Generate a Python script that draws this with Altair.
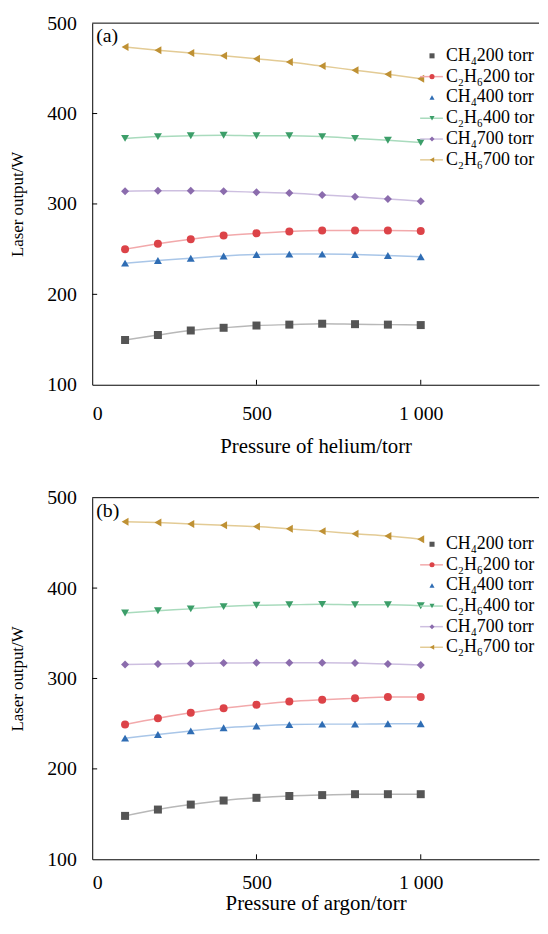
import altair as alt
import pandas as pd

pressure = [100, 200, 300, 400, 500, 600, 700, 800, 900, 1000]
series = ["CH₄200 torr", "C₂H₆200 torr", "CH₄400 torr",
          "C₂H₆400 torr", "CH₄700 torr", "C₂H₆700 torr"]
legend_line_series = ["C₂H₆200 torr", "C₂H₆400 torr", "CH₄700 torr", "C₂H₆700 torr"]

# (a) helium
he_ch4_200 = [149.5, 155, 160, 163, 165.5, 166.5, 167.5, 167, 166.5, 166]
he_c2h6_200 = [250, 256, 261, 265, 267.5, 269.5, 270.5, 270.5, 270.5, 270]
he_ch4_400 = [234.5, 237.5, 240, 242.5, 244, 244.5, 244.5, 244, 243, 241.5]
he_c2h6_400 = [372.5, 374.5, 375.5, 376, 375.5, 375.5, 374.5, 372.5, 370.5, 368]
he_ch4_700 = [314, 314.5, 314.5, 314, 313, 312, 310, 308, 305.5, 303]
he_c2h6_700 = [473.5, 470, 467, 464, 460.5, 457, 452.5, 448, 443.5, 438.5]

# (b) argon
ar_ch4_200 = [148, 155, 160.5, 165, 168, 170, 171, 172, 172, 172]
ar_c2h6_200 = [249, 256, 262, 267, 271, 274.5, 276.5, 278, 279.5, 279.5]
ar_ch4_400 = [234, 238, 242, 245.5, 247.5, 249, 249.5, 249.5, 250, 250]
ar_c2h6_400 = [372.5, 375, 377, 379.5, 381, 381.5, 382, 381.5, 381.5, 380.5]
ar_ch4_700 = [315.5, 316, 316.5, 317, 317.5, 317.5, 317.5, 317, 316, 315]
ar_c2h6_700 = [473.5, 472.5, 471, 469.5, 468, 465.5, 463, 460, 457.5, 454]

marker_colors = ["#555555", "#dc4348", "#2f6db4", "#3c9e69", "#8b6cad", "#bf9134"]
line_colors = ["#b8b8b8", "#f2a9ab", "#a9c6e8", "#a9dbbd", "#cdbfe0", "#e3cb95"]
shapes = ["square", "circle", "triangle-up", "triangle-down", "diamond", "triangle-left"]

x_ticks = [0, 500, 1000]
y_ticks = [100, 200, 300, 400, 500]

FONT = "Liberation Serif"
W, H = 451, 365
LEG_X = 357


def panel(values, xtitle, tag, legend_range, x_label_pad, x_title_pad):
    rows = []
    for name, vals in zip(series, values):
        for p, v in zip(pressure, vals):
            rows.append({"pressure": p, "output": v, "series": name})
    df = pd.DataFrame(rows)
    xscale = alt.Scale(domain=[0, 1360], nice=False, zero=False)
    yscale = alt.Scale(domain=[100, 500], nice=False, zero=False)
    xaxis = alt.Axis(values=x_ticks, title=xtitle, labelPadding=x_label_pad,
                     titlePadding=x_title_pad,
                     labelExpr="replace(datum.label, ',', ' ')")
    yaxis = alt.Axis(values=y_ticks, title="Laser output/W")
    x = alt.X("pressure:Q", scale=xscale, axis=xaxis)
    y = alt.Y("output:Q", scale=yscale, axis=yaxis)
    cscale = alt.Scale(domain=series, range=marker_colors)
    sscale = alt.Scale(domain=series, range=shapes)
    lscale = alt.Scale(domain=series, range=line_colors)

    lines = alt.Chart(df).mark_line(interpolate="monotone", strokeWidth=1.5).encode(
        x=x, y=y,
        stroke=alt.Stroke("series:N", scale=lscale, legend=None),
        detail="series:N",
    )
    points = alt.Chart(df).mark_point(filled=True, size=65, opacity=1).encode(
        x=x, y=y,
        color=alt.Color("series:N", scale=cscale, legend=None),
        shape=alt.Shape("series:N", scale=sscale, legend=None),
    )
    ytk = alt.Chart(pd.DataFrame({"output": [200, 300, 400]})).mark_rule(
        color="black", strokeWidth=1).encode(
        y=alt.Y("output:Q", scale=yscale, axis=yaxis), x=alt.value(0), x2=alt.value(5))
    xtk = alt.Chart(pd.DataFrame({"pressure": [500, 1000]})).mark_rule(
        color="black", strokeWidth=1).encode(
        x=alt.X("pressure:Q", scale=xscale, axis=xaxis), y=alt.value(H - 5), y2=alt.value(H))
    frame_top = alt.Chart(pd.DataFrame({"t": [0]})).mark_rule(
        color="black", strokeWidth=1).encode(
        x=alt.value(0), x2=alt.value(W), y=alt.value(0))
    label = alt.Chart(pd.DataFrame({"t": [tag]})).mark_text(
        font=FONT, fontSize=20, align="left", baseline="middle", color="black").encode(
        text="t:N", x=alt.value(4), y=alt.value(13))
    inner = alt.layer(lines, points, ytk, xtk, frame_top, label)

    # hand-made legend (symbols, short lines, labels cut at the plot edge)
    ly = alt.Y("series:N", scale=alt.Scale(domain=series, type="point", range=legend_range, padding=0),
               axis=None)
    leg_df = pd.DataFrame({"series": series})
    leg_lines = alt.Chart(pd.DataFrame({"series": legend_line_series})).mark_rule(
        strokeWidth=1.5).encode(
        y=ly, x=alt.value(331), x2=alt.value(354),
        stroke=alt.Stroke("series:N", scale=lscale, legend=None))
    leg_pts = alt.Chart(leg_df).mark_point(filled=True, size=26, opacity=1).encode(
        y=ly, x=alt.value(343),
        color=alt.Color("series:N", scale=cscale, legend=None),
        shape=alt.Shape("series:N", scale=sscale, legend=None))
    leg_txt = alt.Chart(leg_df).mark_text(
        font=FONT, fontSize=18, align="left", baseline="middle", color="black",
        clip=True, limit=W - LEG_X, ellipsis=" ").encode(
        y=ly, x=alt.value(LEG_X), text="series:N")
    legend = alt.layer(leg_lines, leg_pts, leg_txt)

    return alt.layer(inner, legend).resolve_scale(y="independent").properties(width=W, height=H)


top = panel([he_ch4_200, he_c2h6_200, he_ch4_400, he_c2h6_400, he_ch4_700, he_c2h6_700],
            "Pressure of helium/torr", "(a)", [33, 138], 19, 12)
bottom = panel([ar_ch4_200, ar_c2h6_200, ar_ch4_400, ar_c2h6_400, ar_ch4_700, ar_c2h6_700],
               "Pressure of argon/torr", "(b)", [47, 151], 14, 0)

chart = alt.vconcat(top, bottom, spacing=30,
                    padding={"left": 0, "top": 0, "right": 0, "bottom": 0}).configure_axis(
    domainColor="black", domainWidth=1, tickSize=0, grid=False,
    labelFont=FONT, labelFontSize=20, labelColor="black",
    titleFont=FONT, titleFontWeight="normal", titleColor="black",
).configure_axisY(titlePadding=20, labelPadding=16, titleFontSize=17).configure_axisX(
    titleFontSize=21).configure_view(
    stroke="transparent"
)

chart.save("out.html", embed_options={"renderer": "svg", "actions": False})
